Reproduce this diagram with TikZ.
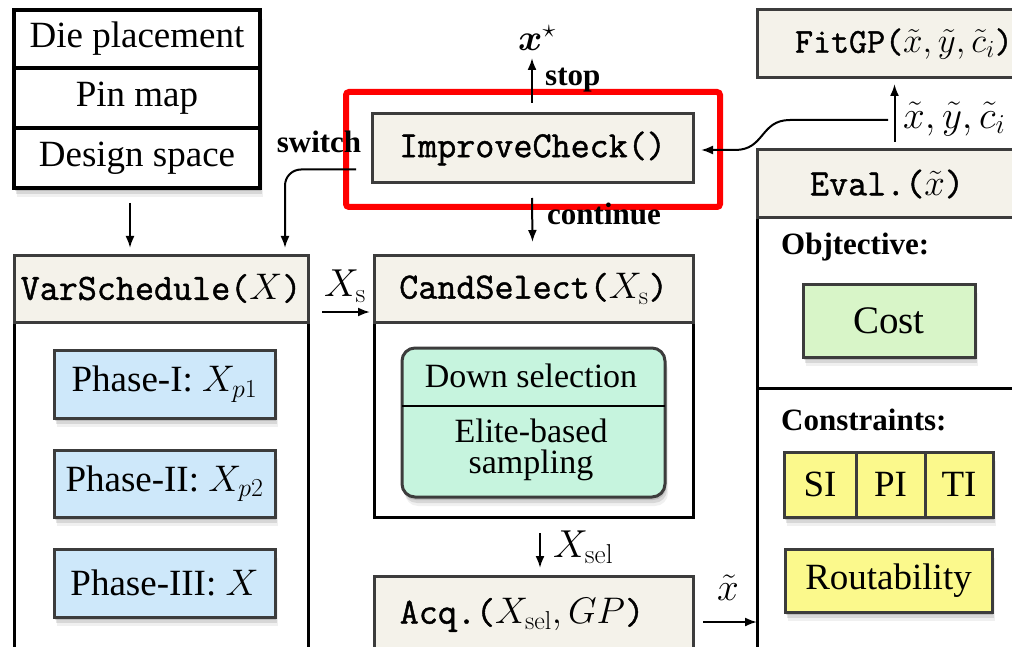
\RequirePackage{fix-cm}
\documentclass[tikz,border=0pt]{standalone}
\usepackage{amsmath,bm}
\usepackage[no-math]{fontspec}
\setmainfont{Liberation Serif}
\newfontfamily\mono[FakeBold=1.2]{Latin Modern Mono}
\usetikzlibrary{shadows,arrows.meta}
\definecolor{beige}{HTML}{F4F2EA}
\definecolor{bord}{HTML}{3C3C3C}
\definecolor{pblue}{HTML}{CEE8FA}
\definecolor{pgreen}{HTML}{C6F4DE}
\definecolor{cgreen}{HTML}{D8F5C8}
\definecolor{pyellow}{HTML}{FBF98C}
\definecolor{redbox}{HTML}{FF0000}
\begin{document}
\begin{tikzpicture}[x=1pt,y=-1pt,
  bx/.style={anchor=north west, inner sep=0pt, outer sep=0pt, line width=3pt},
  shd/.style={drop shadow={shadow xshift=1pt, shadow yshift=-3pt, opacity=0.12, fill=black},
              drop shadow={shadow xshift=2pt, shadow yshift=-6pt, opacity=0.10, fill=black},
              drop shadow={shadow xshift=3pt, shadow yshift=-9pt, opacity=0.06, fill=black}},
  hdr/.style={bx, draw=bord, fill=beige, font=\mono\fontsize{37}{40}\selectfont},
  outerbox/.style={bx, draw=black, fill=white},
  inbox/.style={bx, draw=bord, shd, font=\fontsize{37}{40}\selectfont},
  rowbox/.style={bx, draw=black, line width=3.5pt, fill=white, font=\fontsize{37}{40}\selectfont},
  arr/.style={-{Latex[length=12pt,width=9pt]}, line width=2pt},
  lbl/.style={font=\bfseries\fontsize{31}{34}\selectfont, inner sep=0pt},
  mlbl/.style={font=\fontsize{39}{42}\selectfont, inner sep=0pt},
  sec/.style={font=\bfseries\fontsize{31}{34}\selectfont, inner sep=0pt, anchor=west}
]
\useasboundingbox (0,0) rectangle (1012,647);
\clip (0,0) rectangle (1012,647);
\fill[white] (0,0) rectangle (1012,647);

% top-left stack
\node[rowbox, shd, line width=4pt, minimum width=246, minimum height=178] (stack) at (14,10) {};
\node[rowbox, minimum width=246, minimum height=58] (die) at (14,10) {Die placement};
\node[rowbox, minimum width=246, minimum height=60] (pin) at (14,68) {Pin map};
\node[rowbox, minimum width=246, minimum height=60] (design) at (14,128) {Design space};
\draw[line width=4pt] (stack.north west) rectangle (stack.south east);

% VarSchedule
\node[outerbox, minimum width=294, minimum height=400] (vsbody) at (14,255) {};
\node[hdr, minimum width=294, minimum height=67] (vs) at (14,255) {VarSchedule($X$)};
\node[inbox, fill=pblue, minimum width=221, minimum height=68] (p1) at (54,350) {Phase-I: $X_{p1}$};
\node[inbox, fill=pblue, minimum width=221, minimum height=67] (p2) at (54,450) {Phase-II: $X_{p2}$};
\node[inbox, fill=pblue, minimum width=221, minimum height=68] (p3) at (54,549) {Phase-III: $X$};

% CandSelect
\node[outerbox, minimum width=319, minimum height=262] (csbody) at (374,255) {};
\node[hdr, minimum width=319, minimum height=67] (cs) at (374,255) {CandSelect($X_{\mathrm{s}}$)};
\node[bx, draw=bord, fill=pgreen, rounded corners=13pt, shd, minimum width=263, minimum height=149] (sel) at (402,348) {};
\draw[line width=2.5pt, draw=black] (sel.west |- 0,406) -- (sel.east |- 0,406);
\node[font=\fontsize{34}{36}\selectfont, inner sep=0pt] (down) at (531,376) {Down selection};
\node[font=\fontsize{34}{31}\selectfont, inner sep=0pt, align=center] (elite) at (531,450) {Elite-based\\sampling};

% Acq
\node[hdr, minimum width=319, minimum height=80] (acq) at (374,576) {};
\node[font=\mono\fontsize{37}{40}\selectfont, inner sep=0pt] (acqt) at (522,615) {Acq.($X_{\mathrm{sel}}, GP$)};

% ImproveCheck
\node[hdr, minimum width=321, minimum height=69] (impr) at (372,114) {ImproveCheck()};
\draw[redbox, line width=6pt, rounded corners=3pt] (346,92) rectangle (720,207);

% FitGP
\node[hdr, minimum width=270, minimum height=68, text width=260, align=left, font=\mono\fontsize{35}{40}\selectfont] (fit) at (757,10) {\hspace*{33pt}FitGP($\tilde{x},\tilde{y},\tilde{c}_i$)};

% Eval
\node[outerbox, minimum width=270, minimum height=510] (evbody) at (757,150) {};
\node[hdr, minimum width=270, minimum height=68, text width=260, align=left] (ev) at (757,150) {\hspace*{48pt}Eval.($\tilde{x}$)};
\node[sec] (obj) at (781,247) {Objtective:};
\node[inbox, fill=cgreen, minimum width=172, minimum height=73, font=\fontsize{39}{42}\selectfont] (cost) at (803,284) {Cost};
\draw[line width=3pt] (757,388) -- (1020,388);
\node[sec] (con) at (781,420) {Constraints:};
\node[bx, shd, draw=bord, fill=pyellow, minimum width=209, minimum height=65] (cons) at (784,452) {};
\node[bx, draw=bord, fill=pyellow, minimum width=72, minimum height=65, font=\fontsize{37}{40}\selectfont] (si) at (784,452) {SI};
\node[bx, draw=bord, fill=pyellow, minimum width=69, minimum height=65, font=\fontsize{37}{40}\selectfont] (pi) at (856,452) {PI};
\node[bx, draw=bord, fill=pyellow, minimum width=68, minimum height=65, font=\fontsize{37}{40}\selectfont] (ti) at (925,452) {TI};
\node[inbox, fill=pyellow, minimum width=207, minimum height=63] (rout) at (785,549) {Routability};

% connectors
\draw[arr] ([xshift=-7pt,yshift=-15pt]design.south) -- ([xshift=-31pt,yshift=7pt]vs.north);
\draw[arr, rounded corners=16pt] ([xshift=-16pt,yshift=-21pt]impr.west) -| ([xshift=-23pt,yshift=7pt]vs.north east);
\node[lbl] (switch) at (319,142) {switch};

\draw[arr] ([xshift=-0.5pt,yshift=11pt]impr.north) -- ([xshift=-0.5pt,yshift=56pt]impr.north);
\node[lbl, anchor=west] (stop) at (545,80) {stop};
\node[font=\fontsize{37}{40}\selectfont, inner sep=0pt] (xstar) at (537,38) {$\bm{x}^{\star}$};

\draw[arr] ([xshift=-0.5pt,yshift=-15pt]impr.south) -- ([xshift=-1pt,yshift=13pt]cs.north);
\node[lbl, anchor=west] (cont) at (547,214) {continue};

\draw[arr] ([xshift=14pt,yshift=-23.5pt]vs.east) -- ([xshift=-4pt,yshift=-23.5pt]cs.west);
\node[mlbl] (xs) at (345,286) {$X_{\mathrm{s}}$};

\draw[arr] ([xshift=6.5pt,yshift=-16pt]csbody.south) -- ([xshift=6.5pt,yshift=8pt]acq.north);
\node[mlbl, anchor=west] (xsel) at (553,547) {$X_{\mathrm{sel}}$};

\draw[arr] ([xshift=10pt,yshift=-6pt]acq.east) -- ([yshift=-6pt]evbody.west |- acq.east);
\node[mlbl] (xt) at (728,588) {$\tilde{x}$};

\coordinate (jn) at (888,120);
\draw[arr] ([xshift=2.5pt,yshift=8pt]ev.north) -- ([xshift=2.5pt,yshift=-6pt]fit.south);
\draw[arr] (jn) -- (790,120) .. controls (760,120) and (765,150) .. (735,150) -- ([xshift=8pt,yshift=-1.5pt]impr.east);
\node[mlbl, anchor=west] (xyc) at (903,119) {$\tilde{x},\tilde{y},\tilde{c}_i$};
\end{tikzpicture}
\end{document}
